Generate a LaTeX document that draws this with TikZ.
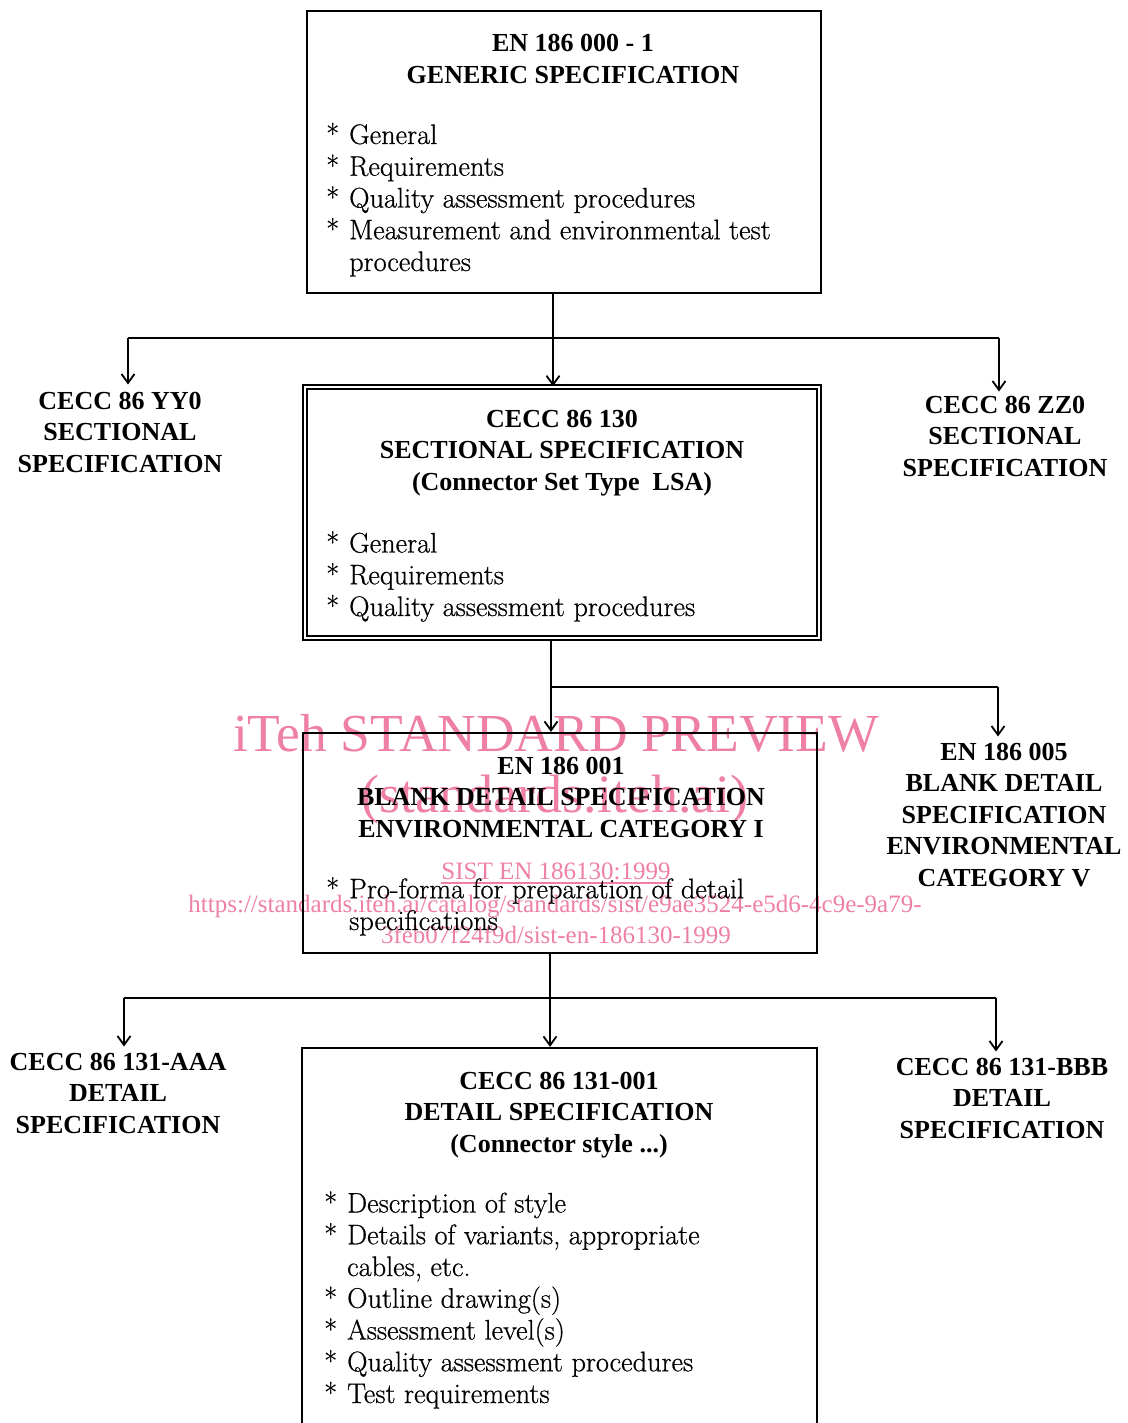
\documentclass[tikz,border=0pt]{standalone}
\usepackage{fontspec}
\usetikzlibrary{arrows.meta}
\newfontfamily\tmfont{Liberation Serif}
\newfontfamily\lmfont{Latin Modern Roman}[FakeBold=0.6]
\definecolor{wmpink}{RGB}{238,128,164}
\newcommand\hdfont{\tmfont\bfseries\fontsize{26pt}{31.5pt}\selectfont}
\newcommand\bdfont{\lmfont\fontsize{28.3pt}{31.75pt}\selectfont}
\newcommand\itm[1]{\makebox[23pt][l]{*}#1}
\newcommand\cnt[1]{\hspace*{23pt}#1}
\begin{document}
\begin{tikzpicture}[x=1pt,y=-1pt,
  box/.style={draw, line width=2.2pt, rectangle, inner sep=0pt},
  dbox/.style={draw, line width=1.5pt, double, double distance=2.5pt, rectangle, inner sep=0pt},
  head/.style={align=center, anchor=base, inner sep=0pt, font=\hdfont},
  lst/.style={align=left, anchor=base west, inner sep=0pt, font=\bdfont},
  ln/.style={line width=1.8pt},
  arr/.style={line width=1.8pt, -{Straight Barb[length=9pt,width=13pt,line width=1.8pt]}},
  wm/.style={text=wmpink, inner sep=0pt, anchor=base}]
\useasboundingbox (0,0) rectangle (1127,1423);
% boxes
\node[box, minimum width=514pt, minimum height=282pt] (gen) at (564,152) {};
\node[dbox, minimum width=514pt, minimum height=251pt] (sec) at (562,512.5) {};
\node[box, minimum width=514pt, minimum height=220pt] (bds) at (560,843) {};
\node[box, minimum width=515pt, minimum height=392pt] (det) at (559.5,1244) {};
% texts in boxes (base anchor = baseline of last line)
\node[head] (genT) at (573,83.5) {EN 186 000 - 1\\GENERIC SPECIFICATION};
\node[lst] (genL) at (326,271) {\itm{General}\\\itm{Requirements}\\\itm{Quality assessment procedures}\\\itm{Measurement and environmental test}\\\cnt{procedures}};
\node[head] (secT) at (562,490) {CECC 86 130\\SECTIONAL SPECIFICATION\\(Connector Set Type~~LSA)};
\node[lst] (secL) at (326,616) {\itm{General}\\\itm{Requirements}\\\itm{Quality assessment procedures}};
\node[head] (bdsT) at (561,837) {EN 186 001\\BLANK DETAIL SPECIFICATION\\ENVIRONMENTAL CATEGORY I};
\node[lst] (bdsL) at (326,930) {\itm{Pro-forma for preparation of detail}\\\cnt{specifications}};
\node[head] (detT) at (559,1152) {CECC 86 131-001\\DETAIL SPECIFICATION\\(Connector style ...)};
\node[lst] (detL) at (324,1403) {\itm{Description of style}\\\itm{Details of variants, appropriate}\\\cnt{cables, etc.}\\\itm{Outline drawing(s)}\\\itm{Assessment level(s)}\\\itm{Quality assessment procedures}\\\itm{Test requirements}};
% side labels
\node[head] (yy0) at (120,472) {CECC 86 YY0\\SECTIONAL\\SPECIFICATION};
\node[head] (zz0) at (1005,476) {CECC 86 ZZ0\\SECTIONAL\\SPECIFICATION};
\node[head] (bd5) at (1004,886) {EN 186 005\\BLANK DETAIL\\SPECIFICATION\\ENVIRONMENTAL\\CATEGORY V};
\node[head] (aaa) at (118,1133) {CECC 86 131-AAA\\DETAIL\\SPECIFICATION};
\node[head] (bbb) at (1002,1138) {CECC 86 131-BBB\\DETAIL\\SPECIFICATION};
% connectors
\coordinate (c1) at (553,338);
\coordinate (l1) at (128,338);
\coordinate (r1) at (999,338);
\draw[ln] (gen.south -| c1) -- (c1);
\draw[ln] (l1) -- (r1);
\draw[arr] (c1) -- (c1 |- sec.north);
\draw[arr, shorten >=7pt] (l1) -- (l1 |- yy0.north);
\draw[arr, shorten >=4pt] (r1) -- (r1 |- zz0.north);
\coordinate (c2) at (551,687);
\coordinate (r2) at (998,687);
\draw[arr] (sec.south -| c2) -- (c2 |- bds.north);
\draw[ln] (c2) -- (r2);
\draw[arr, shorten >=6pt] (r2) -- (r2 |- bd5.north);
\coordinate (c3) at (550,998);
\coordinate (l3) at (124,998);
\coordinate (r3) at (996,998);
\draw[ln] (bds.south -| c3) -- (c3);
\draw[ln] (l3) -- (r3);
\draw[arr] (c3) -- (c3 |- det.north);
\draw[arr, shorten >=6pt] (l3) -- (l3 |- aaa.north);
\draw[arr, shorten >=6pt] (r3) -- (r3 |- bbb.north);
% watermark
\begin{scope}[blend mode=multiply]
\node[wm, font=\tmfont\fontsize{53.5pt}{53.5pt}\selectfont] (wm1) at (556,751) {iTeh STANDARD PREVIEW};
\node[wm, font=\tmfont\fontsize{54pt}{54pt}\selectfont] (wm2) at (555,812) {(standards.iteh.ai)};
\node[wm, font=\tmfont\fontsize{25pt}{25pt}\selectfont] (wm3) at (556,879) {SIST EN 186130:1999};
\draw[wmpink, line width=1.2pt] ([yshift=-4pt]wm3.base west) -- ([yshift=-4pt]wm3.base east);
\node[wm, font=\tmfont\fontsize{25pt}{25pt}\selectfont] (wm4) at (555,912) {https://standards.iteh.ai/catalog/standards/sist/e9ae3524-e5d6-4c9e-9a79-};
\node[wm, font=\tmfont\fontsize{25pt}{25pt}\selectfont] (wm5) at (556,943) {3feb07f24f9d/sist-en-186130-1999};
\end{scope}
\end{tikzpicture}
\end{document}
